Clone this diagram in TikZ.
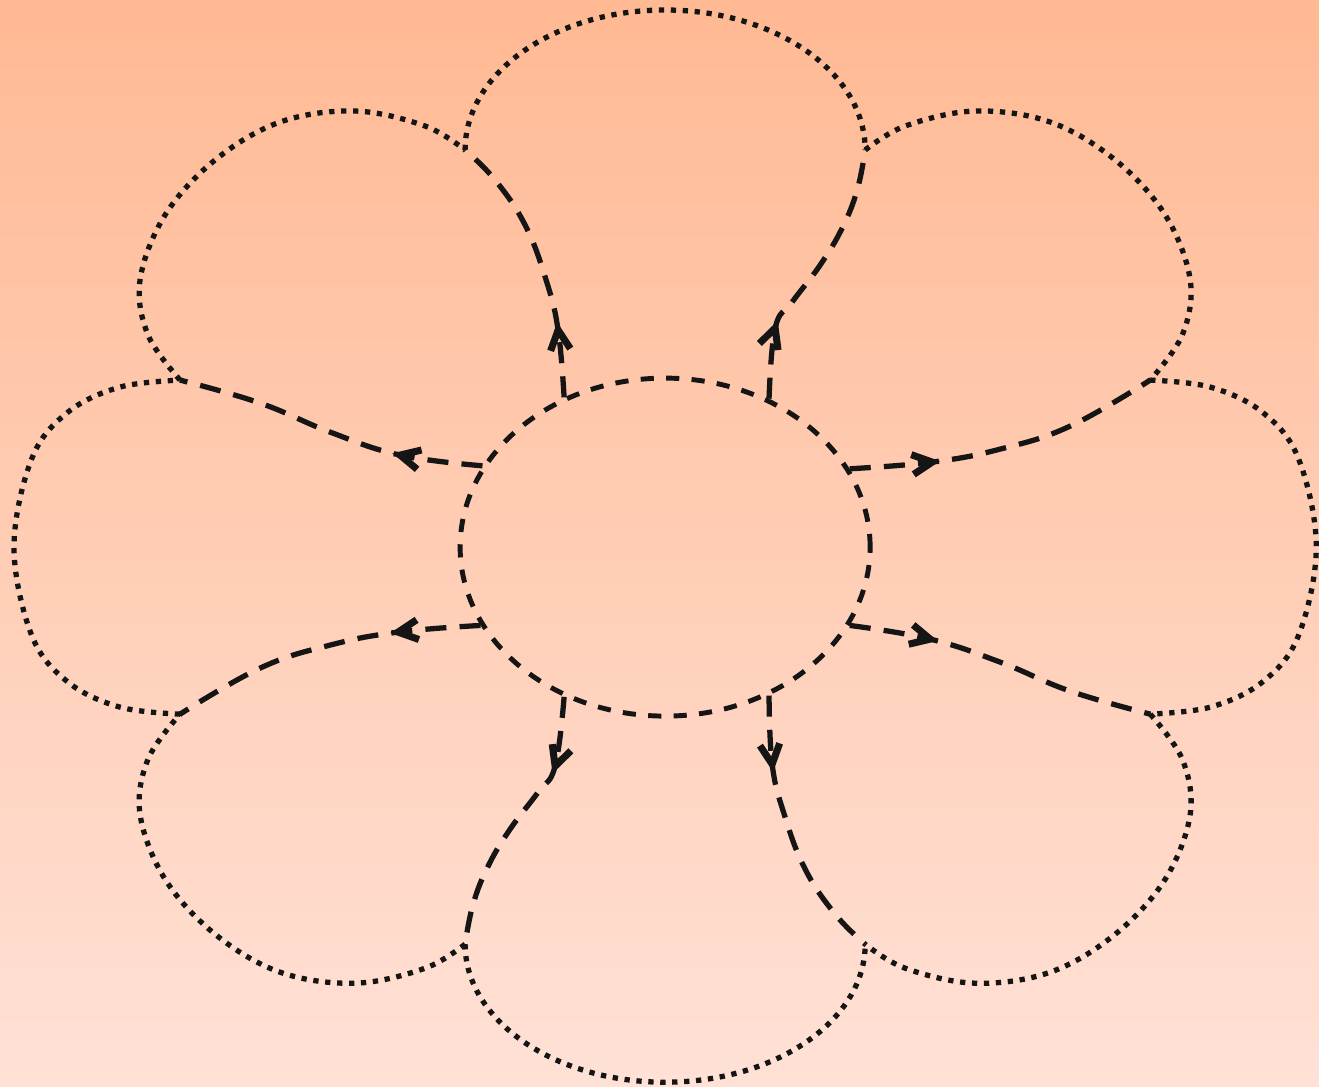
\documentclass[tikz,border=0pt]{standalone}
\usetikzlibrary{shapes.geometric,calc}
\definecolor{bgtop}{HTML}{FFB993}
\definecolor{bgbot}{HTML}{FFE1D6}
\definecolor{ink}{HTML}{151515}
\begin{document}
\begin{tikzpicture}[x=0.02cm,y=-0.02cm,
  petal/.style={draw=ink, line width=3pt, dash pattern=on 3pt off 3.8pt},
  hub/.style={draw=ink, ellipse, line width=2.8pt, dash pattern=on 7.5pt off 7pt,
    minimum width=8.2cm, minimum height=6.76cm, inner sep=0pt},
  barb/.style={draw=ink, solid, line width=4pt, line join=miter, line cap=butt},
  spoke/.style={draw=ink, line width=3pt, dash pattern=on 12pt off 7.5pt}]
\fill[top color=bgtop, bottom color=bgbot] (0cm,0cm) rectangle (26.38cm,-21.74cm);
\useasboundingbox (0cm,0cm) rectangle (26.38cm,-21.74cm);

\node[hub] (hub) at (665,547) {};

% petal junctions
\coordinate (j1) at (465,150);
\coordinate (j2) at (865,150);
\coordinate (j3) at (1150,380);
\coordinate (j4) at (1150,714);
\coordinate (j5) at (865,944);
\coordinate (j6) at (465,944);
\coordinate (j7) at (180,714);
\coordinate (j8) at (180,380);
% arrow tips
\coordinate (t1) at (558,330);
\coordinate (t2) at (775,328);
\coordinate (t3) at (932,462);
\coordinate (t4) at (930,639);
\coordinate (t5) at (772,764);
\coordinate (t6) at (555,766);
\coordinate (t7) at (398,632);
\coordinate (t8) at (400,455);

% petals (dotted outer arcs)
\draw[petal] (j1) arc[start angle=180, end angle=360, x radius=200, y radius=140];
\draw[petal] plot[smooth, tension=0.6] coordinates {(j2) (905,126) (975,111) (1050,122) (1115,160) (1165,215) (1190,280) (1182,335) (j3)};
\draw[petal] plot[smooth, tension=0.6] coordinates {(j3) (1210,387) (1262,412) (1298,458) (1316,547) (1298,636) (1262,682) (1210,707) (j4)};
\draw[petal] plot[smooth, tension=0.6] coordinates {(j4) (1182,759) (1190,814) (1165,879) (1115,934) (1050,972) (975,983) (905,968) (j5)};
\draw[petal] (j6) arc[start angle=180, end angle=0, x radius=200, y radius=138];
\draw[petal] plot[smooth, tension=0.6] coordinates {(j6) (425,968) (355,983) (280,972) (215,934) (165,879) (140,814) (148,759) (j7)};
\draw[petal] plot[smooth, tension=0.6] coordinates {(j7) (120,707) (68,682) (32,636) (14,547) (32,458) (68,412) (120,387) (j8)};
\draw[petal] plot[smooth, tension=0.6] coordinates {(j8) (148,335) (140,280) (165,215) (215,160) (280,122) (355,111) (425,126) (j1)};

% spokes (dashed)
\draw[spoke] plot[smooth, tension=0.7] coordinates {(hub.124.4) (t1) (546,280) (525,225) (495,180) (j1)};
\draw[spoke] plot[smooth, tension=0.7] coordinates {(hub.55.6) (t2) (792,302) (820,265) (842,228) (857,190) (j2)};
\draw[spoke] plot[smooth, tension=0.7] coordinates {(hub.23.4) (t3) (1000,449) (1070,426) (j3)};
\draw[spoke] plot[smooth, tension=0.7] coordinates {(hub.-23.4) (t4) (1000,662) (1070,691) (j4)};
\draw[spoke] plot[smooth, tension=0.7] coordinates {(hub.-55.6) (t5) (784,814) (805,869) (835,914) (j5)};
\draw[spoke] plot[smooth, tension=0.7] coordinates {(hub.-124.4) (t6) (538,792) (510,829) (488,866) (473,904) (j6)};
\draw[spoke] plot[smooth, tension=0.7] coordinates {(hub.203.4) (t7) (330,645) (260,668) (j7)};
\draw[spoke] plot[smooth, tension=0.7] coordinates {(hub.156.6) (t8) (330,432) (260,403) (j8)};

% arrowheads pointing outward
\draw[barb] ($(t1)+(12.2,18.5)$) -- (t1) -- ($(t1)+(-7.5,20.8)$);
\draw[barb] ($(t2)+(2.9,22)$) -- (t2) -- ($(t2)+(-15.8,15.4)$);
\draw[barb] ($(t3)+(-18.5,12.3)$) -- (t3) -- ($(t3)+(-20.9,-7.4)$);
\draw[barb] ($(t4)+(-21.5,5.1)$) -- (t4) -- ($(t4)+(-17,-14.2)$);
\draw[barb] ($(t5)+(-12.2,-18.5)$) -- (t5) -- ($(t5)+(7.5,-20.8)$);
\draw[barb] ($(t6)+(-2.9,-22)$) -- (t6) -- ($(t6)+(15.8,-15.4)$);
\draw[barb] ($(t7)+(18.5,-12.3)$) -- (t7) -- ($(t7)+(20.9,7.4)$);
\draw[barb] ($(t8)+(21.5,-5.1)$) -- (t8) -- ($(t8)+(17,14.2)$);
\end{tikzpicture}
\end{document}
